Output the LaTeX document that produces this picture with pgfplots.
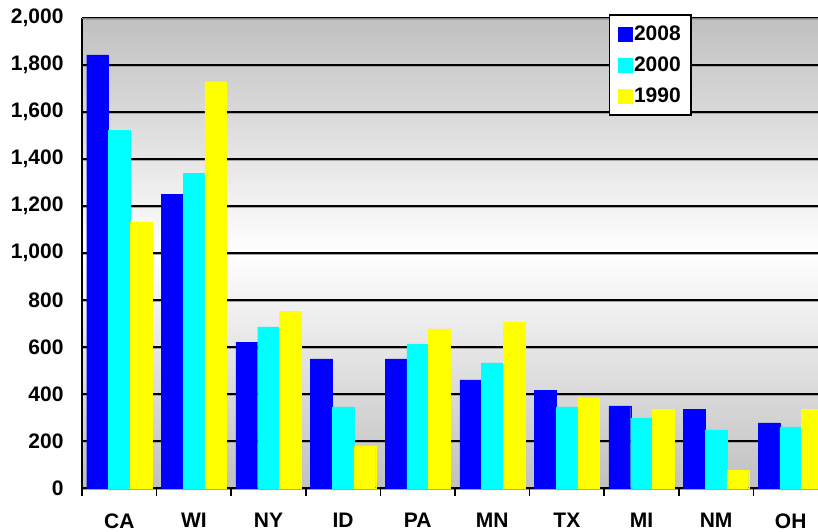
\documentclass[border=0pt]{standalone}
\usepackage{pgfplots}
\pgfplotsset{compat=1.18}
\usepackage{fontspec}
\setmainfont{Liberation Sans}
\definecolor{cBlue}{HTML}{0000FF}
\definecolor{cCyan}{HTML}{00FFFF}
\definecolor{cYellow}{HTML}{FFFF00}
\definecolor{bgGray}{HTML}{C0C0C0}
\begin{document}
\begin{tikzpicture}
\begin{axis}[
  scale only axis,
  width=746pt, height=470pt,
  ybar=0pt, bar width=21.7pt,
  xmin=-0.5, xmax=9.5,
  ymin=0, ymax=2000,
  xtick={0,...,9},
  xticklabels={CA,WI,NY,ID,PA,MN,TX,MI,NM,OH},
  minor xtick={-0.5,0.5,...,9.5},
  ytick={0,200,...,2000},
  major tick length=0pt,
  minor tick length=8pt,
  tick align=outside,
  tick style={black, line width=1.5pt},
  axis x line*=bottom, axis y line*=left,
  axis line style={black, line width=2.2pt},
  ymajorgrids,
  major grid style={black, line width=1.6pt,
    preaction={draw=gray!70, line width=1.6pt, transform canvas={yshift=-1.6pt}}},
  /pgf/number format/.cd, 1000 sep={,}, assume math mode=true,
  /pgfplots/.cd,
  ticklabel style={font=\bfseries\fontsize{21}{25}\selectfont},
  yticklabel style={xshift=-15pt},
  xticklabel style={yshift=-22pt},
  axis background/.style={top color=bgGray, bottom color=bgGray, middle color=white},
  legend style={at={(0.7064,1.0085)}, anchor=north west, draw=black, line width=1.5pt,
    font=\bfseries\fontsize{21}{25}\selectfont, inner xsep=8pt, inner ysep=9pt,
    row sep=11pt, cells={anchor=west}},
  legend image code/.code={\fill[#1] (0pt,-7pt) rectangle (14pt,7pt);},
]
\addplot[fill=cBlue, draw=cBlue, line width=0.3pt] coordinates {(0,1843) (1,1251) (2,621) (3,549) (4,549) (5,460) (6,417) (7,349) (8,336) (9,277)};
\addplot[fill=cCyan, draw=cCyan, line width=0.3pt] coordinates {(0,1523) (1,1340) (2,686) (3,345) (4,613) (5,532) (6,345) (7,298) (8,247) (9,260)};
\addplot[fill=cYellow, draw=cYellow, line width=0.3pt] coordinates {(0,1132) (1,1729) (2,753) (3,179) (4,677) (5,706) (6,384) (7,336) (8,77) (9,336)};
\legend{2008,2000,1990}
\draw[gray, line width=1.5pt] (rel axis cs:0,1) -- (rel axis cs:1,1);
\end{axis}
\pgfresetboundingbox
\path[use as bounding box] (-82pt,-43pt) rectangle (736pt,488pt);
\end{tikzpicture}
\end{document}
